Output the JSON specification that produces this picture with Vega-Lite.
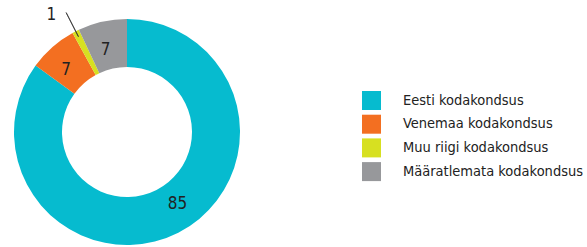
{
  "$schema": "https://vega.github.io/schema/vega-lite/v6.json",
  "width": 254,
  "height": 230,
  "autosize": {"type": "none"},
  "padding": {"left": 0, "top": 17, "right": 333, "bottom": 0},
  "background": "white",
  "config": {"view": {"stroke": null}, "font": "'DejaVu Sans Condensed', 'Liberation Sans Narrow', Roboto, sans-serif"},
  "data": {
    "values": [
      {"cat": "Eesti kodakondsus", "v": 85, "o": 1},
      {"cat": "Venemaa kodakondsus", "v": 7, "o": 2},
      {"cat": "Muu riigi kodakondsus", "v": 1, "o": 3},
      {"cat": "Määratlemata kodakondsus", "v": 7, "o": 4}
    ]
  },
  "encoding": {
    "theta": {"field": "v", "type": "quantitative", "stack": true},
    "order": {"field": "o", "type": "quantitative"}
  },
  "layer": [
    {
      "mark": {"type": "arc", "radius": 113, "radius2": 65},
      "encoding": {
        "color": {
          "field": "cat",
          "type": "nominal",
          "scale": {
            "domain": ["Eesti kodakondsus", "Venemaa kodakondsus", "Muu riigi kodakondsus", "Määratlemata kodakondsus"],
            "range": ["#06bbcf", "#f36f21", "#d7e021", "#97989b"]
          },
          "legend": {
            "title": null,
            "orient": "none",
            "legendX": 362,
            "legendY": 74,
            "symbolType": "square",
            "symbolSize": 361,
            "symbolStrokeWidth": 0,
            "symbolOpacity": 1,
            "labelFont": "'DejaVu Sans Condensed', 'Liberation Sans Narrow', Roboto, sans-serif",
            "labelFontSize": 14.5,
            "labelColor": "#222222",
            "labelOffset": 22,
            "rowPadding": 4.7,
            "labelLimit": 300
          }
        }
      }
    },
    {
      "mark": {"type": "arc", "radius": 134, "radius2": 107, "padAngle": 0.6, "filled": false, "stroke": "#333333", "strokeWidth": 0.8},
      "encoding": {
        "detail": {"field": "cat"},
        "strokeOpacity": {"condition": {"test": "datum.v == 1", "value": 1}, "value": 0}
      }
    },
    {
      "mark": {"type": "text", "radius": 89, "dx": 10, "dy": -7, "fontSize": 17, "color": "#222222", "align": "center", "baseline": "middle"},
      "encoding": {
        "detail": {"field": "cat"},
        "text": {"condition": {"test": "datum.v != 85", "value": ""}, "field": "v", "type": "quantitative"}
      }
    },
    {
      "mark": {"type": "text", "radius": 89, "dx": -2, "dy": 5, "fontSize": 17, "color": "#222222", "align": "center", "baseline": "middle"},
      "encoding": {
        "detail": {"field": "cat"},
        "text": {"condition": {"test": "datum.v != 7", "value": ""}, "field": "v", "type": "quantitative"}
      }
    },
    {
      "mark": {"type": "text", "radius": 140, "dx": -12, "dy": 8, "fontSize": 17, "color": "#222222", "align": "center", "baseline": "middle"},
      "encoding": {
        "detail": {"field": "cat"},
        "text": {"condition": {"test": "datum.v != 1", "value": ""}, "field": "v", "type": "quantitative"}
      }
    }
  ]
}
